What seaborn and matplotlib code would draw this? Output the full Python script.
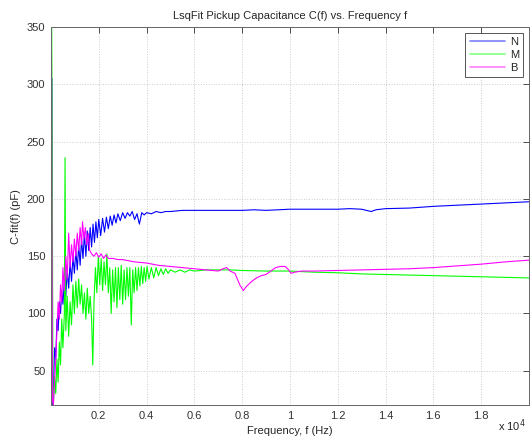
import matplotlib
matplotlib.use("Agg")
import matplotlib.pyplot as plt
import seaborn as sns
import pandas as pd

# Fitted pickup capacitance C(f) in pF for three pickups (N, M, B)
n_freq = [40, 60, 80, 100, 150, 200, 250, 300, 350, 400, 450, 500, 560, 620, 680, 740,
          800, 860, 920, 980, 1040, 1100, 1160, 1220, 1280, 1340, 1400, 1460, 1520, 1580,
          1640, 1700, 1760, 1820, 1880, 1940, 2000, 2080, 2160, 2240, 2320, 2400, 2480,
          2560, 2640, 2720, 2800, 2900, 3000, 3100, 3200, 3300, 3400, 3500, 3600, 3700,
          3800, 3900, 4000, 4200, 4400, 4600, 4800, 5000, 5500, 6000, 6500, 7000, 7500,
          8000, 8500, 9000, 9500, 10000, 11000, 12000, 12500, 13000, 13400, 13600, 14000,
          15000, 16000, 17000, 18000, 19000, 20000]
n_cap = [305, 20, 40, 30, 70, 60, 95, 85, 110, 100, 120, 108, 128, 115, 138, 122,
         145, 128, 150, 135, 155, 138, 160, 142, 165, 148, 170, 150, 172, 155,
         175, 158, 178, 162, 180, 166, 182, 168, 183, 171, 184, 174, 185,
         177, 186, 179, 187, 181, 188, 183, 188, 185, 189, 182, 187, 178,
         188, 186, 188, 187, 189, 188, 189, 189, 190, 190, 190, 190, 190,
         190, 190.5, 190, 190.5, 191, 191, 191, 191.5, 191, 189, 190.5, 191.5,
         192, 193.5, 194.5, 195.5, 196.5, 197.5]

m_freq = [30, 60, 80, 100, 150, 200, 250, 300, 350, 400, 450, 500, 560, 590, 620, 680,
          740, 800, 860, 920, 980, 1040, 1100, 1160, 1220, 1280, 1340, 1400, 1460, 1520,
          1580, 1640, 1700, 1750, 1800, 1860, 1920, 1980, 2040, 2100, 2160, 2220, 2280,
          2340, 2400, 2460, 2520, 2580, 2640, 2700, 2760, 2820, 2880, 2940, 3000, 3060,
          3120, 3180, 3240, 3300, 3360, 3420, 3480, 3540, 3600, 3660, 3720, 3780, 3840,
          3900, 3960, 4020, 4100, 4200, 4300, 4400, 4500, 4600, 4700, 4800, 4900, 5000,
          5200, 5400, 5600, 5800, 6000, 6500, 7000, 7500, 8000, 9000, 10000, 11000, 12000,
          13000, 14000, 15000, 16000, 17000, 18000, 19000, 20000]
m_cap = [350, 200, 30, 20, 45, 30, 60, 40, 75, 55, 95, 70, 100, 236, 85, 115,
         80, 110, 90, 125, 100, 128, 105, 130, 108, 125, 100, 118, 95, 122,
         100, 115, 95, 55, 110, 140, 118, 150, 125, 148, 120, 145, 125,
         152, 118, 140, 100, 138, 110, 140, 105, 140, 112, 142, 108, 138,
         112, 140, 115, 140, 90, 138, 118, 140, 120, 140, 124, 141, 126,
         140, 128, 141, 130, 140, 131, 140, 133, 139, 134, 139, 135, 138,
         136, 138, 136, 138, 137, 138, 138, 138, 137.5, 137, 137, 136, 135.5,
         134.5, 134, 133.5, 133, 132.5, 132, 131.5, 131]

b_freq = [20, 60, 100, 200, 300, 350, 400, 450, 500, 560, 620, 680, 740, 800, 860, 920,
          980, 1040, 1100, 1160, 1220, 1280, 1320, 1380, 1440, 1500, 1560, 1620, 1700,
          1800, 1900, 2000, 2100, 2200, 2300, 2400, 2600, 2800, 3000, 3500, 4000, 4500,
          5000, 5500, 6000, 6500, 7000, 7200, 7350, 7500, 7700, 7900, 8050, 8200, 8400,
          8600, 8800, 9000, 9200, 9400, 9600, 9800, 9950, 10050, 10200, 10500, 11000,
          12000, 13000, 14000, 15000, 16000, 17000, 18000, 19000, 20000]
b_cap = [330, 25, 20, 60, 110, 95, 125, 110, 140, 120, 150, 130, 170, 140, 160, 145,
         165, 150, 170, 155, 175, 160, 180, 165, 175, 160, 170, 155, 152,
         150, 153, 149, 152, 148, 151, 148, 148, 147, 147, 145, 144, 142,
         141, 140, 139, 138, 137, 139, 140, 137, 135, 125, 120, 124, 128,
         131, 133, 134, 137, 140, 141, 141, 138, 135, 136, 137, 137,
         137.5, 138, 138.5, 139, 140, 141.5, 143, 145, 146.5]

labels = ["N", "M", "B"]
colors = {"N": "#0000ff", "M": "#00ff00", "B": "#ff00ff"}

df = pd.concat([
    pd.DataFrame({"f": n_freq, "C": n_cap, "pickup": "N"}),
    pd.DataFrame({"f": m_freq, "C": m_cap, "pickup": "M"}),
    pd.DataFrame({"f": b_freq, "C": b_cap, "pickup": "B"}),
], ignore_index=True)

sns.set_style("white")
plt.rcParams["font.family"] = ["Liberation Sans", "DejaVu Sans"]

fig = plt.figure(figsize=(5.31, 4.38), dpi=100)
ax = fig.add_axes([0.096, 0.0753, 0.9, 0.8627])

sns.lineplot(data=df, x="f", y="C", hue="pickup", hue_order=labels, palette=colors,
             estimator=None, sort=False, linewidth=0.8, ax=ax)

ax.set_xlim(0, 20000)
ax.set_ylim(20, 350)
xt = [2000, 4000, 6000, 8000, 10000, 12000, 14000, 16000, 18000]
ax.set_xticks(xt)
ax.set_xticklabels(["0.2", "0.4", "0.6", "0.8", "1", "1.2", "1.4", "1.6", "1.8"])
ax.set_yticks([50, 100, 150, 200, 250, 300, 350])
ax.tick_params(direction="in", top=True, right=True, length=4, width=0.6,
               labelsize=8, colors="#333333", pad=4)
ax.grid(True, linestyle=":", color="#cccccc", linewidth=0.7)
for s in ax.spines.values():
    s.set_color("#666666")
    s.set_linewidth(0.7)

ax.set_title("LsqFit Pickup Capacitance C(f) vs. Frequency f", fontsize=8, pad=6)
ax.set_xlabel("Frequency, f (Hz)", fontsize=8, labelpad=4)
ax.set_ylabel("C-fit(f) (pF)", fontsize=8, labelpad=4)
fig.text(0.963, 0.008, r"x 10$^{4}$", fontsize=8, ha="center", va="bottom")

leg = ax.legend(loc="upper right", fancybox=False, edgecolor="#555555", framealpha=1,
                fontsize=8, handlelength=3.2, handletextpad=0.4, labelspacing=0.25,
                borderaxespad=0.5, borderpad=0.4, title=None)
leg.get_frame().set_linewidth(0.7)
for h in leg.get_lines():
    h.set_alpha(0.5)
    h.set_linewidth(1.2)

fig.savefig("out.png", dpi=100)
